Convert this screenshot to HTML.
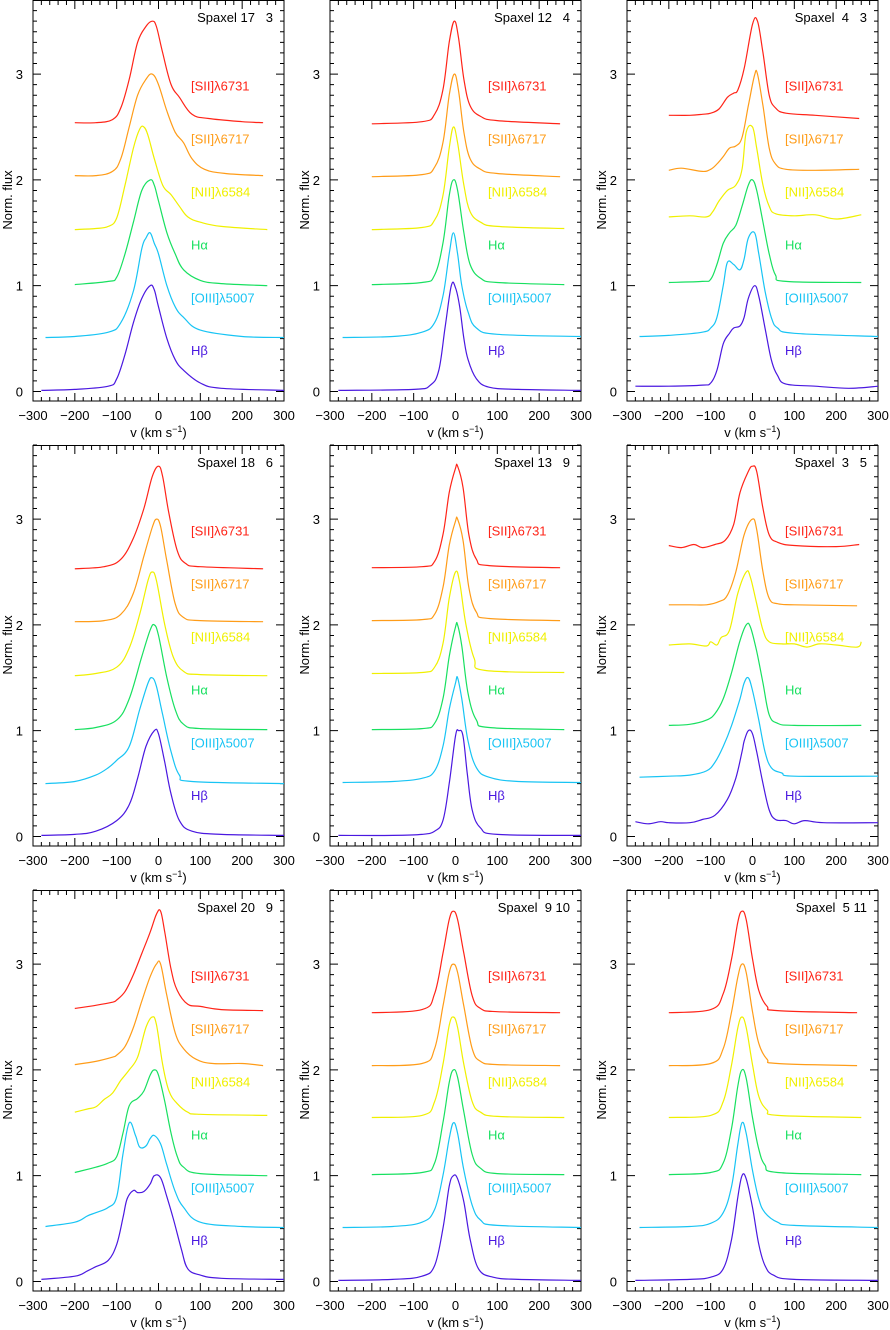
<!DOCTYPE html>
<html><head><meta charset="utf-8"><style>
body{margin:0;background:#fff;}
svg{display:block;font-family:"Liberation Sans","DejaVu Sans",sans-serif;}
</style></head><body>
<svg id="fig" width="890" height="1330" viewBox="0 0 890 1330"></svg>
<script>
const panelTitles=["Spaxel 17   3","Spaxel 12   4","Spaxel  4   3","Spaxel 18   6","Spaxel 13   9","Spaxel  3   5","Spaxel 20   9","Spaxel  9 10","Spaxel  5 11"];
const lineNames=["Hβ","[OIII]λ5007","Hα","[NII]λ6584","[SII]λ6717","[SII]λ6731"];
const lineColors=["#4a18e0","#18c4f4","#18e060","#f0f000","#ff9c18","#ff2418"];
const xTicks=[-300,-200,-100,0,100,200,300];
const yTicks=[0,1,2,3];
const p1=[
[[-280,0.01],[-200,0.02],[-120,0.05],[-100,0.12],[-80,0.35],[-60,0.65],[-40,0.88],[-20,1.0],[-10,0.96],[0,0.8],[20,0.5],[40,0.3],[60,0.2],[100,0.08],[150,0.03],[300,0.01]],
[[-270,0.51],[-200,0.52],[-120,0.56],[-90,0.65],[-60,0.95],[-40,1.35],[-30,1.45],[-20,1.5],[-10,1.4],[0,1.3],[20,1.0],[40,0.8],[60,0.7],[100,0.58],[200,0.52],[300,0.51]],
[[-200,1.01],[-120,1.04],[-100,1.08],[-80,1.3],[-60,1.6],[-40,1.9],[-20,2.0],[-10,1.95],[0,1.8],[20,1.5],[40,1.3],[60,1.15],[100,1.05],[150,1.02],[260,1.0]],
[[-200,1.53],[-150,1.54],[-120,1.56],[-100,1.64],[-80,1.95],[-60,2.3],[-45,2.48],[-35,2.5],[-25,2.42],[-10,2.2],[10,1.95],[30,1.86],[50,1.75],[70,1.65],[100,1.6],[150,1.56],[260,1.53]],
[[-200,2.04],[-150,2.04],[-110,2.08],[-90,2.2],[-70,2.5],[-50,2.8],[-30,2.95],[-15,3.0],[0,2.9],[20,2.65],[40,2.45],[60,2.35],[80,2.2],[110,2.1],[160,2.06],[250,2.04]],
[[-200,2.54],[-150,2.54],[-110,2.57],[-90,2.68],[-70,2.95],[-50,3.3],[-30,3.45],[-15,3.5],[-5,3.45],[10,3.2],[30,2.9],[50,2.78],[80,2.62],[120,2.58],[200,2.55],[250,2.54]]];
const p2=[
[[-280,0.01],[-100,0.02],[-60,0.06],[-40,0.2],[-25,0.6],[-10,1.0],[0,0.98],[10,0.8],[20,0.5],[30,0.3],[50,0.12],[80,0.04],[150,0.02],[300,0.01]],
[[-270,0.51],[-150,0.52],[-80,0.56],[-50,0.65],[-30,0.9],[-15,1.3],[-5,1.5],[5,1.3],[15,1.0],[30,0.75],[50,0.6],[100,0.54],[300,0.52]],
[[-200,1.01],[-80,1.03],[-50,1.1],[-30,1.4],[-15,1.85],[-5,2.0],[5,1.9],[20,1.5],[35,1.2],[60,1.07],[100,1.03],[260,1.01]],
[[-200,1.53],[-80,1.55],[-50,1.62],[-30,1.85],[-15,2.3],[-5,2.5],[5,2.35],[20,1.95],[35,1.7],[60,1.6],[100,1.56],[260,1.54]],
[[-200,2.03],[-80,2.05],[-50,2.12],[-30,2.35],[-15,2.8],[-3,3.0],[7,2.85],[20,2.45],[35,2.2],[60,2.1],[100,2.06],[250,2.03]],
[[-200,2.53],[-80,2.55],[-50,2.62],[-30,2.85],[-15,3.3],[-3,3.5],[7,3.35],[20,2.95],[35,2.7],[60,2.6],[100,2.56],[250,2.53]]];
const p3=[
[[-280,0.05],[-200,0.05],[-120,0.06],[-100,0.08],[-85,0.2],[-70,0.45],[-55,0.55],[-45,0.6],[-30,0.62],[-20,0.7],[-10,0.88],[5,1.0],[15,0.9],[30,0.6],[45,0.3],[60,0.15],[80,0.07],[150,0.05],[230,0.03],[300,0.05]],
[[-270,0.52],[-200,0.53],[-120,0.56],[-100,0.6],[-85,0.7],[-70,1.0],[-60,1.22],[-45,1.2],[-30,1.15],[-20,1.25],[-10,1.45],[5,1.5],[15,1.3],[30,0.95],[45,0.7],[60,0.6],[100,0.55],[300,0.52]],
[[-200,1.03],[-120,1.04],[-100,1.06],[-85,1.2],[-70,1.4],[-55,1.5],[-40,1.57],[-25,1.75],[-10,1.95],[0,2.0],[10,1.9],[25,1.6],[40,1.3],[55,1.1],[80,1.04],[260,1.03]],
[[-200,1.65],[-150,1.66],[-110,1.65],[-95,1.7],[-80,1.8],[-60,1.9],[-40,1.95],[-25,2.1],[-15,2.45],[0,2.5],[10,2.3],[25,1.95],[40,1.75],[55,1.68],[100,1.66],[150,1.67],[200,1.63],[260,1.67]],
[[-200,2.09],[-170,2.11],[-120,2.08],[-100,2.1],[-85,2.15],[-70,2.22],[-55,2.3],[-40,2.32],[-25,2.4],[-10,2.7],[5,2.99],[12,3.0],[25,2.7],[40,2.3],[55,2.15],[80,2.1],[150,2.09],[255,2.1]],
[[-200,2.61],[-150,2.61],[-120,2.62],[-100,2.63],[-80,2.67],[-60,2.78],[-45,2.82],[-35,2.85],[-20,3.05],[0,3.47],[12,3.5],[25,3.2],[40,2.8],[55,2.68],[80,2.63],[150,2.61],[255,2.58]]];
const p4=[
[[-280,0.01],[-200,0.02],[-150,0.05],[-100,0.15],[-70,0.3],[-50,0.55],[-30,0.85],[-10,1.0],[0,0.97],[15,0.7],[30,0.4],[50,0.15],[80,0.05],[150,0.02],[300,0.01]],
[[-270,0.5],[-200,0.52],[-150,0.58],[-120,0.65],[-100,0.72],[-70,0.85],[-45,1.2],[-25,1.45],[-15,1.5],[-5,1.42],[10,1.15],[30,0.8],[50,0.58],[80,0.52],[300,0.5]],
[[-200,1.01],[-150,1.03],[-100,1.1],[-70,1.3],[-40,1.7],[-20,1.95],[-10,2.0],[0,1.9],[20,1.5],[40,1.2],[60,1.06],[100,1.02],[260,1.01]],
[[-200,1.52],[-150,1.54],[-100,1.6],[-70,1.78],[-45,2.1],[-25,2.42],[-15,2.5],[-5,2.42],[15,2.0],[35,1.7],[60,1.56],[100,1.53],[260,1.52]],
[[-200,2.03],[-130,2.04],[-90,2.1],[-60,2.3],[-35,2.65],[-15,2.92],[-5,3.0],[5,2.93],[20,2.6],[40,2.2],[60,2.07],[100,2.04],[250,2.03]],
[[-200,2.53],[-130,2.55],[-90,2.62],[-60,2.82],[-35,3.1],[-15,3.4],[0,3.5],[10,3.4],[25,3.05],[45,2.7],[65,2.58],[100,2.55],[250,2.53]]];
const p5=[
[[-280,0.01],[-150,0.01],[-80,0.02],[-50,0.05],[-30,0.15],[-15,0.5],[0,0.95],[8,1.0],[18,0.95],[28,0.6],[40,0.25],[60,0.08],[100,0.02],[300,0.01]],
[[-270,0.51],[-150,0.52],[-80,0.55],[-50,0.62],[-30,0.85],[-15,1.2],[0,1.45],[5,1.5],[15,1.3],[30,0.9],[50,0.65],[80,0.56],[150,0.52],[300,0.51]],
[[-200,1.01],[-80,1.02],[-50,1.07],[-30,1.3],[-15,1.7],[0,1.98],[5,2.0],[15,1.8],[30,1.35],[50,1.1],[80,1.03],[260,1.01]],
[[-200,1.54],[-80,1.55],[-50,1.6],[-30,1.82],[-15,2.25],[0,2.5],[10,2.4],[25,2.0],[45,1.68],[70,1.57],[260,1.55]],
[[-200,2.04],[-80,2.05],[-50,2.1],[-30,2.35],[-15,2.75],[0,2.98],[5,3.0],[18,2.8],[32,2.35],[50,2.12],[80,2.06],[250,2.04]],
[[-200,2.54],[-80,2.55],[-50,2.6],[-30,2.85],[-15,3.25],[0,3.48],[5,3.5],[18,3.3],[32,2.85],[50,2.62],[80,2.56],[250,2.54]]];
const p6=[
[[-280,0.14],[-250,0.12],[-220,0.14],[-200,0.13],[-150,0.13],[-120,0.16],[-90,0.2],[-60,0.35],[-40,0.55],[-25,0.8],[-20,0.9],[-10,1.0],[0,0.97],[10,0.8],[25,0.5],[40,0.25],[55,0.16],[80,0.15],[100,0.12],[125,0.15],[170,0.13],[300,0.13]],
[[-270,0.56],[-200,0.57],[-150,0.58],[-110,0.62],[-90,0.7],[-70,0.85],[-50,1.05],[-30,1.3],[-20,1.45],[-10,1.5],[0,1.38],[15,1.1],[30,0.8],[45,0.65],[70,0.6],[100,0.57],[300,0.57]],
[[-200,1.05],[-150,1.06],[-110,1.1],[-90,1.16],[-70,1.3],[-50,1.55],[-30,1.85],[-15,2.0],[-5,1.98],[10,1.75],[25,1.45],[40,1.15],[60,1.07],[100,1.05],[260,1.05]],
[[-200,1.81],[-150,1.82],[-110,1.8],[-100,1.84],[-85,1.81],[-75,1.88],[-55,1.95],[-35,2.3],[-15,2.5],[-5,2.45],[10,2.2],[25,1.95],[40,1.84],[70,1.82],[100,1.82],[130,1.79],[160,1.82],[200,1.81],[250,1.79],[260,1.84]],
[[-200,2.19],[-150,2.19],[-110,2.19],[-80,2.22],[-60,2.28],[-40,2.5],[-20,2.85],[0,3.0],[10,2.9],[25,2.5],[40,2.25],[60,2.2],[100,2.19],[250,2.18]],
[[-200,2.75],[-170,2.73],[-140,2.76],[-120,2.73],[-90,2.76],[-65,2.8],[-45,2.95],[-30,3.25],[-10,3.45],[0,3.5],[10,3.45],[25,3.1],[40,2.85],[60,2.78],[100,2.75],[200,2.74],[255,2.76]]];
const p7=[
[[-280,0.02],[-200,0.05],[-170,0.1],[-150,0.14],[-120,0.2],[-100,0.35],[-85,0.6],[-75,0.78],[-60,0.86],[-50,0.84],[-35,0.85],[-20,0.92],[-10,1.0],[5,0.98],[20,0.8],[35,0.6],[55,0.3],[70,0.12],[100,0.06],[150,0.03],[300,0.02]],
[[-270,0.52],[-200,0.56],[-170,0.62],[-150,0.65],[-120,0.7],[-100,0.8],[-85,1.2],[-70,1.5],[-55,1.38],[-45,1.27],[-30,1.28],[-20,1.35],[-10,1.38],[5,1.3],[20,1.1],[40,0.85],[60,0.7],[100,0.56],[200,0.52],[300,0.51]],
[[-200,1.03],[-150,1.08],[-120,1.12],[-100,1.18],[-85,1.4],[-70,1.66],[-50,1.73],[-35,1.8],[-20,1.95],[-10,2.0],[0,1.95],[15,1.7],[30,1.4],[45,1.18],[60,1.08],[100,1.02],[260,1.0]],
[[-200,1.6],[-170,1.63],[-150,1.65],[-130,1.72],[-110,1.78],[-90,1.9],[-70,2.0],[-50,2.12],[-30,2.4],[-15,2.5],[-5,2.43],[10,2.05],[25,1.8],[45,1.68],[70,1.6],[100,1.58],[260,1.57]],
[[-200,2.05],[-150,2.08],[-110,2.12],[-100,2.14],[-80,2.22],[-60,2.4],[-40,2.65],[-20,2.88],[-5,3.0],[5,3.0],[20,2.7],[40,2.35],[60,2.2],[90,2.1],[130,2.06],[200,2.06],[250,2.04]],
[[-200,2.58],[-150,2.61],[-110,2.64],[-100,2.66],[-80,2.74],[-60,2.9],[-40,3.1],[-20,3.3],[-5,3.47],[5,3.5],[15,3.3],[30,2.95],[45,2.75],[70,2.62],[100,2.6],[150,2.57],[250,2.56]]];
const p8=[
[[-280,0.01],[-150,0.02],[-80,0.05],[-50,0.15],[-30,0.5],[-15,0.9],[-5,1.0],[5,0.97],[20,0.75],[35,0.4],[55,0.12],[90,0.04],[150,0.02],[300,0.01]],
[[-270,0.51],[-150,0.52],[-80,0.56],[-50,0.68],[-30,1.0],[-15,1.35],[-5,1.5],[5,1.4],[20,1.05],[40,0.72],[60,0.58],[100,0.53],[300,0.51]],
[[-200,1.01],[-80,1.03],[-50,1.12],[-30,1.5],[-15,1.88],[-5,2.0],[5,1.93],[20,1.6],[40,1.2],[60,1.07],[100,1.02],[260,1.01]],
[[-200,1.55],[-80,1.57],[-50,1.7],[-30,2.05],[-15,2.42],[-5,2.5],[5,2.4],[20,2.05],[40,1.7],[60,1.6],[100,1.56],[260,1.55]],
[[-200,2.04],[-80,2.06],[-50,2.2],[-30,2.6],[-15,2.92],[-5,3.0],[5,2.92],[20,2.6],[40,2.2],[60,2.08],[100,2.05],[250,2.04]],
[[-200,2.54],[-80,2.57],[-50,2.72],[-30,3.1],[-15,3.42],[-5,3.5],[5,3.42],[20,3.1],[40,2.7],[60,2.58],[100,2.55],[250,2.54]]];
const p9=[
[[-280,0.01],[-150,0.02],[-100,0.04],[-70,0.12],[-50,0.4],[-35,0.8],[-25,1.0],[-15,0.97],[0,0.7],[15,0.35],[30,0.15],[50,0.06],[100,0.02],[300,0.01]],
[[-270,0.51],[-150,0.52],[-100,0.55],[-70,0.65],[-50,0.9],[-35,1.3],[-25,1.5],[-15,1.4],[0,1.05],[15,0.78],[30,0.65],[60,0.56],[100,0.53],[300,0.51]],
[[-200,1.01],[-100,1.03],[-70,1.12],[-50,1.45],[-35,1.85],[-25,2.0],[-15,1.92],[0,1.55],[15,1.25],[30,1.1],[60,1.03],[260,1.01]],
[[-200,1.55],[-100,1.57],[-70,1.7],[-50,2.05],[-35,2.4],[-25,2.5],[-15,2.4],[0,2.05],[15,1.75],[35,1.62],[60,1.57],[260,1.55]],
[[-200,2.04],[-100,2.06],[-70,2.2],[-50,2.55],[-35,2.88],[-25,3.0],[-15,2.92],[0,2.55],[15,2.25],[35,2.1],[60,2.06],[250,2.04]],
[[-200,2.54],[-100,2.57],[-70,2.72],[-50,3.05],[-35,3.4],[-25,3.5],[-15,3.42],[0,3.05],[15,2.75],[35,2.6],[60,2.56],[250,2.54]]];
const panelData=[p1,p2,p3,p4,p5,p6,p7,p8,p9];

const NS="http://www.w3.org/2000/svg";
const svg=document.getElementById('fig');
function mk(tag,attrs,parent){const e=document.createElementNS(NS,tag);for(const k in attrs)e.setAttribute(k,attrs[k]);parent.appendChild(e);return e;}
function smoothPath(P){
  let d='M'+P[0][0].toFixed(1)+','+P[0][1].toFixed(1);
  for(let i=0;i<P.length-1;i++){
    const p0=P[Math.max(0,i-1)],p1=P[i],p2=P[i+1],p3=P[Math.min(P.length-1,i+2)];
    const t=0.18;
    const c1x=p1[0]+(p2[0]-p0[0])*t,c1y=p1[1]+(p2[1]-p0[1])*t;
    const c2x=p2[0]-(p3[0]-p1[0])*t,c2y=p2[1]-(p3[1]-p1[1])*t;
    d+=`C${c1x.toFixed(1)},${c1y.toFixed(1)} ${c2x.toFixed(1)},${c2y.toFixed(1)} ${p2[0].toFixed(1)},${p2[1].toFixed(1)}`;
  }
  return d;
}
const lefts=[33,330,627], tops=[0,445,890], W=251, H=401, YMIN=-0.09, YMAX=3.70;
panelData.forEach((curves,pi)=>{
  const L=lefts[pi%3], T=tops[Math.floor(pi/3)];
  const sx=v=>L+(v+300)/600*W;
  const sy=y=>T+H-(y-YMIN)/(YMAX-YMIN)*H;
  const g=mk('g',{},svg);
  
  
  const fr=mk('rect',{x:L,y:T+0.5,width:W,height:H-0.5,fill:'none',stroke:'#000','stroke-width':1},g);
  
  
  let d='';
  for(let v=-300;v<=300;v+=20){const x=sx(v);const len=(v%100===0)?8:4;d+=`M${x},${T+H}v${-len}M${x},${T+1}v${len}`;}
  for(let k=0;k*0.1<=3.7;k++){const y=sy(k*0.1);const len=(k%10===0)?8:4;d+=`M${L},${y}h${len}M${L+W},${y}h${-len}`;}
  const tk=mk('path',{d:d,stroke:'#000','stroke-width':1,fill:'none'},g);
  
  
  xTicks.forEach(v=>{const t=mk('text',{x:sx(v),y:T+H+19,'text-anchor':'middle','font-size':13},g);t.textContent=(v<0?'\u2212':'')+Math.abs(v);
    
    });
  yTicks.forEach(v=>{const t=mk('text',{x:L-10,y:sy(v)+5,'text-anchor':'end','font-size':13},g);t.textContent=v;
    
    });
  const xt=mk('text',{x:L+W/2,y:T+H+36,'text-anchor':'middle','font-size':13},g);
  xt.innerHTML='v (km s<tspan font-size="9" dy="-5">\u22121</tspan><tspan dy="5">)</tspan>';
  
  
  const yt=mk('text',{x:0,y:0,'text-anchor':'middle','font-size':13,transform:`translate(${L-21},${T+200}) rotate(-90)`},g);
  yt.textContent='Norm. flux';
  
  
  const tt=mk('text',{x:L+W-11,y:T+22,'text-anchor':'end','font-size':13,style:'white-space:pre'},g);
  tt.textContent=panelTitles[pi];
  
  
  curves.forEach((pts,ci)=>{
    const P=pts.map(p=>[sx(p[0]),sy(p[1])]);
    const c=mk('path',{d:smoothPath(P),stroke:lineColors[ci],'stroke-width':1.2,fill:'none','stroke-linejoin':'round'},g);
    
    
    const lb=mk('text',{x:L+158,y:sy(ci*0.5+0.39)+5,'font-size':13,fill:lineColors[ci]},g);
    lb.textContent=lineNames[ci];
    
    
  });
});
</script>
</body></html>
